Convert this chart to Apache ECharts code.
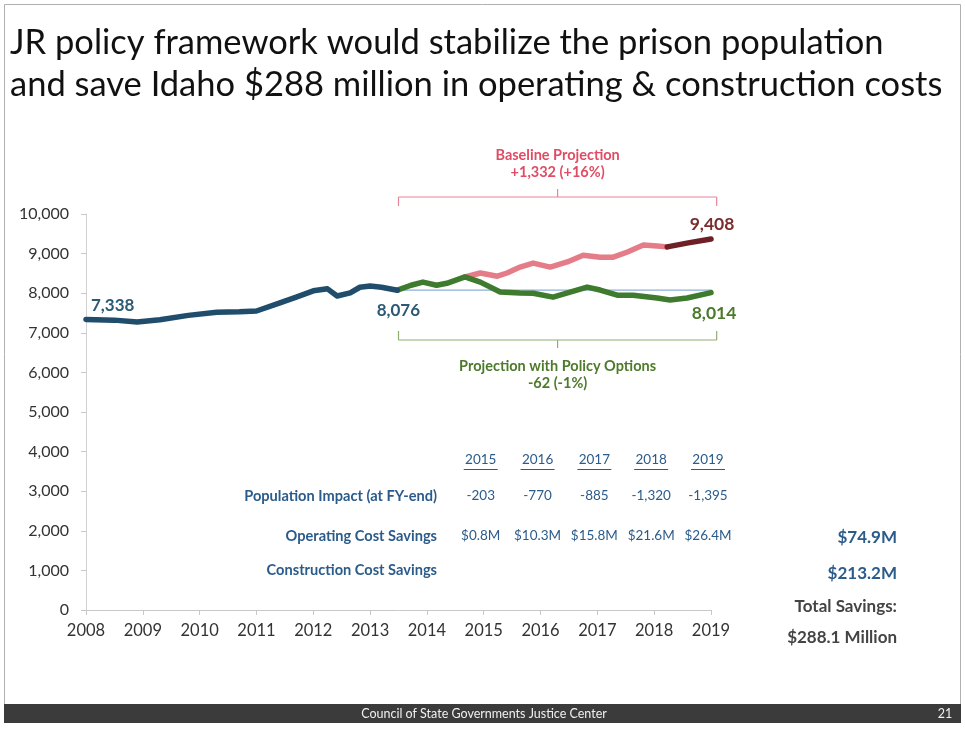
<!DOCTYPE html>
<html><head><meta charset="utf-8">
<script src="https://cdn.jsdelivr.net/npm/echarts@6/dist/echarts.min.js"></script>
<style>html,body{margin:0;padding:0;background:#fff}#c{width:965px;height:729px}</style>
</head><body><div id="c"></div>
<script>
// ---------- DATA ----------
const titleLines = ['JR policy framework would stabilize the prison population',
                    'and save Idaho $288 million in operating & construction costs'];
const xTicks = [2008,2009,2010,2011,2012,2013,2014,2015,2016,2017,2018,2019];
const yTicks = [0,1000,2000,3000,4000,5000,6000,7000,8000,9000,10000];

const actualX = [2008.0,2008.5,2008.9,2009.3,2009.8,2010.3,2010.7,2011.0,2011.4,2011.7,2012.0,2012.25,2012.42,2012.65,2012.82,2013.0,2013.2,2013.48];
const actualY = [7338,7320,7270,7330,7440,7520,7530,7550,7750,7900,8060,8110,7930,8010,8150,8180,8150,8076];

const policyX = [2013.48,2013.72,2013.93,2014.17,2014.35,2014.67,2014.94,2015.29,2015.64,2015.87,2016.22,2016.52,2016.82,2017.05,2017.35,2017.63,2018.05,2018.28,2018.58,2019.0];
const policyY = [8076,8200,8280,8200,8250,8410,8280,8030,8005,8000,7900,8030,8155,8080,7950,7950,7880,7830,7880,8014];

const baseX = [2014.67,2014.94,2015.24,2015.41,2015.64,2015.87,2016.17,2016.47,2016.75,2017.05,2017.28,2017.53,2017.81,2018.05,2018.23];
const baseY = [8410,8510,8430,8510,8660,8760,8660,8790,8960,8910,8910,9040,9215,9190,9170];

const baseEndX = [2018.23,2018.6,2019.0];
const baseEndY = [9170,9270,9370];

const refX = [2013.48,2019.0];
const refY = [8076,8076];

const startLabel = '7,338', midLabel = '8,076', baseEndLabel = '9,408', policyEndLabel = '8,014';
const baselineText = ['Baseline Projection','+1,332 (+16%)'];
const policyText = ['Projection with Policy Options','-62 (-1%)'];

const tableYears = [2015,2016,2017,2018,2019];
const rowLabels = ['Population Impact (at FY-end)','Operating Cost Savings','Construction Cost Savings'];
const popImpact = ['-203','-770','-885','-1,320','-1,395'];
const opSavings = ['$0.8M','$10.3M','$15.8M','$21.6M','$26.4M'];
const totals = ['$74.9M','$213.2M'];
const totalSavings = ['Total Savings:','$288.1 Million'];
const footerText = 'Council of State Governments Justice Center';
const pageNo = '21';

// ---------- CHART ----------
const F = 'Lato, "Open Sans", sans-serif';
const pairs = (xs, ys) => xs.map((x,i)=>[x, ys[i]]);
const fmt = v => String(v).replace(/\B(?=(\d{3})+(?!\d))/g, ',');

const chart = echarts.init(document.getElementById('c'), null, {renderer:'canvas'});
const lineS = (name, xs, ys, color, w, z) => ({
  name, type:'line', data: pairs(xs, ys), showSymbol:false, symbol:'none',
  lineStyle:{color, width:w, cap:'round', join:'round'}, z: z||2, silent:true, animation:false
});

chart.setOption({
  backgroundColor:'#fff',
  animation:false,
  grid:{left:86, right:254, top:214, bottom:119},
  xAxis:{type:'value', min:2008, max:2019, interval:1,
    axisLine:{show:true, lineStyle:{color:'#c8c8c8'}},
    axisTick:{show:true, length:5, lineStyle:{color:'#c8c8c8'}},
    splitLine:{show:false},
    axisLabel:{color:'#333', fontFamily:F, fontSize:16.5, margin:12, formatter:v=>String(v)}},
  yAxis:{type:'value', min:0, max:10000, interval:1000,
    axisLine:{show:true, lineStyle:{color:'#d0d0d0'}},
    axisTick:{show:true, length:5, lineStyle:{color:'#c8c8c8'}},
    splitLine:{show:false},
    axisLabel:{color:'#333', fontFamily:F, fontSize:16, margin:17, formatter:v=>fmt(v)}},
  series:[
    lineS('ref', refX, refY, '#8fb0d6', 1.2, 1),
    lineS('baseline', baseX, baseY, '#e47d87', 5.5, 2),
    lineS('baselineEnd', baseEndX, baseEndY, '#6e2026', 5.5, 3),
    lineS('policy', policyX, policyY, '#3e7b2e', 5.5, 4),
    lineS('actual', actualX, actualY, '#1f4d6b', 5.5, 5)
  ]
});

const P = (x, y) => chart.convertToPixel({gridIndex:0}, [x, y]);
const g = [];
const txt = (x, y, text, o) => g.push({type:'text', x, y, silent:true, z:10,
  style:Object.assign({text, fontFamily:F, fontSize:12, fontWeight:'bold', fill:'#2b5b8a',
    textAlign:'center', textVerticalAlign:'middle'}, o||{})});
const ln = (x1,y1,x2,y2,stroke,w) => g.push({type:'line', silent:true, z:9,
  shape:{x1,y1,x2,y2}, style:{stroke, lineWidth:w||1}});

// page frame & title
g.push({type:'rect', silent:true, z:0, shape:{x:4.5,y:4.5,width:956,height:700}, style:{fill:'none', stroke:'#b0b0b0', lineWidth:1}});
txt(10, 43, titleLines[0], {fontSize:34.5, fontWeight:'normal', fill:'#111', textAlign:'left'});
txt(10, 85, titleLines[1], {fontSize:34.5, fontWeight:'normal', fill:'#111', textAlign:'left'});

// footer
g.push({type:'rect', silent:true, z:1, shape:{x:4,y:704,width:957,height:19}, style:{fill:'#3b3b3b'}});
txt(484, 713.5, footerText, {fontSize:12.5, fontWeight:'normal', fill:'#f0f0f0'});
txt(945, 713.5, pageNo, {fontSize:12.5, fontWeight:'normal', fill:'#f0f0f0'});

// point labels
const pStart = P(actualX[0], actualY[0]);
txt(pStart[0]+5, pStart[1]-14, startLabel, {fontSize:17, fill:'#2a5a75', textAlign:'left'});
const pMid = P(actualX[actualX.length-1], actualY[actualY.length-1]);
txt(pMid[0]+1, pMid[1]+20, midLabel, {fontSize:17, fill:'#2a5a75'});
const pBE = P(baseEndX[baseEndX.length-1], baseEndY[baseEndY.length-1]);
txt(pBE[0]+1, pBE[1]-15, baseEndLabel, {fontSize:17.5, fill:'#7a2c2c'});
const pPE = P(policyX[policyX.length-1], policyY[policyY.length-1]);
txt(pPE[0]+3, pPE[1]+21, policyEndLabel, {fontSize:17.5, fill:'#4b7a2b'});

// brackets
const bx1 = P(2013.5, 0)[0], bx2 = P(2019.1, 0)[0], bmid = (bx1+bx2)/2;
const pink = '#e8849a', greenB = '#8fae6e';
ln(bx1,197,bx2,197,pink,1.2); ln(bx1,197,bx1,206,pink,1.2); ln(bx2,197,bx2,206,pink,1.2); ln(bmid,197,bmid,189,pink,1.2);
txt(bmid, 155, baselineText[0], {fill:'#e04c64', fontSize:14.5});
txt(bmid, 172, baselineText[1], {fill:'#e04c64', fontSize:14.5});
ln(bx1,340,bx2,340,greenB,1.2); ln(bx1,340,bx1,331,greenB,1.2); ln(bx2,340,bx2,331,greenB,1.2); ln(bmid,340,bmid,348,greenB,1.2);
txt(bmid, 366, policyText[0], {fill:'#4e7a2b', fontSize:14.5});
txt(bmid, 383, policyText[1], {fill:'#4e7a2b', fontSize:14.5});

// table
const rowY = [496, 536, 570];
tableYears.forEach((yr, i) => {
  const cx = P(yr, 0)[0] - 3;
  txt(cx, 460, String(yr), {fontSize:13.5, fontWeight:'normal', fill:'#2b5b8a'});
  ln(cx-17, 469.5, cx+17, 469.5, '#2b5b8a', 1);
  txt(cx, rowY[0], popImpact[i], {fontSize:13.5, fontWeight:'normal', fill:'#2b5b8a'});
  txt(cx, rowY[1], opSavings[i], {fontSize:13.5, fontWeight:'normal', fill:'#2b5b8a'});
});
rowLabels.forEach((l, i) => txt(437, rowY[i], l, {fontSize:14.6, textAlign:'right', fill:'#2b5b8a'}));
txt(897, 538, totals[0], {fontSize:17, textAlign:'right', fill:'#2b5b8a'});
txt(897, 574, totals[1], {fontSize:17, textAlign:'right', fill:'#2b5b8a'});
txt(897, 607, totalSavings[0], {fontSize:17, textAlign:'right', fill:'#444'});
txt(897, 638, totalSavings[1], {fontSize:17, textAlign:'right', fill:'#444'});

chart.setOption({graphic:{elements:g}});
</script></body></html>
